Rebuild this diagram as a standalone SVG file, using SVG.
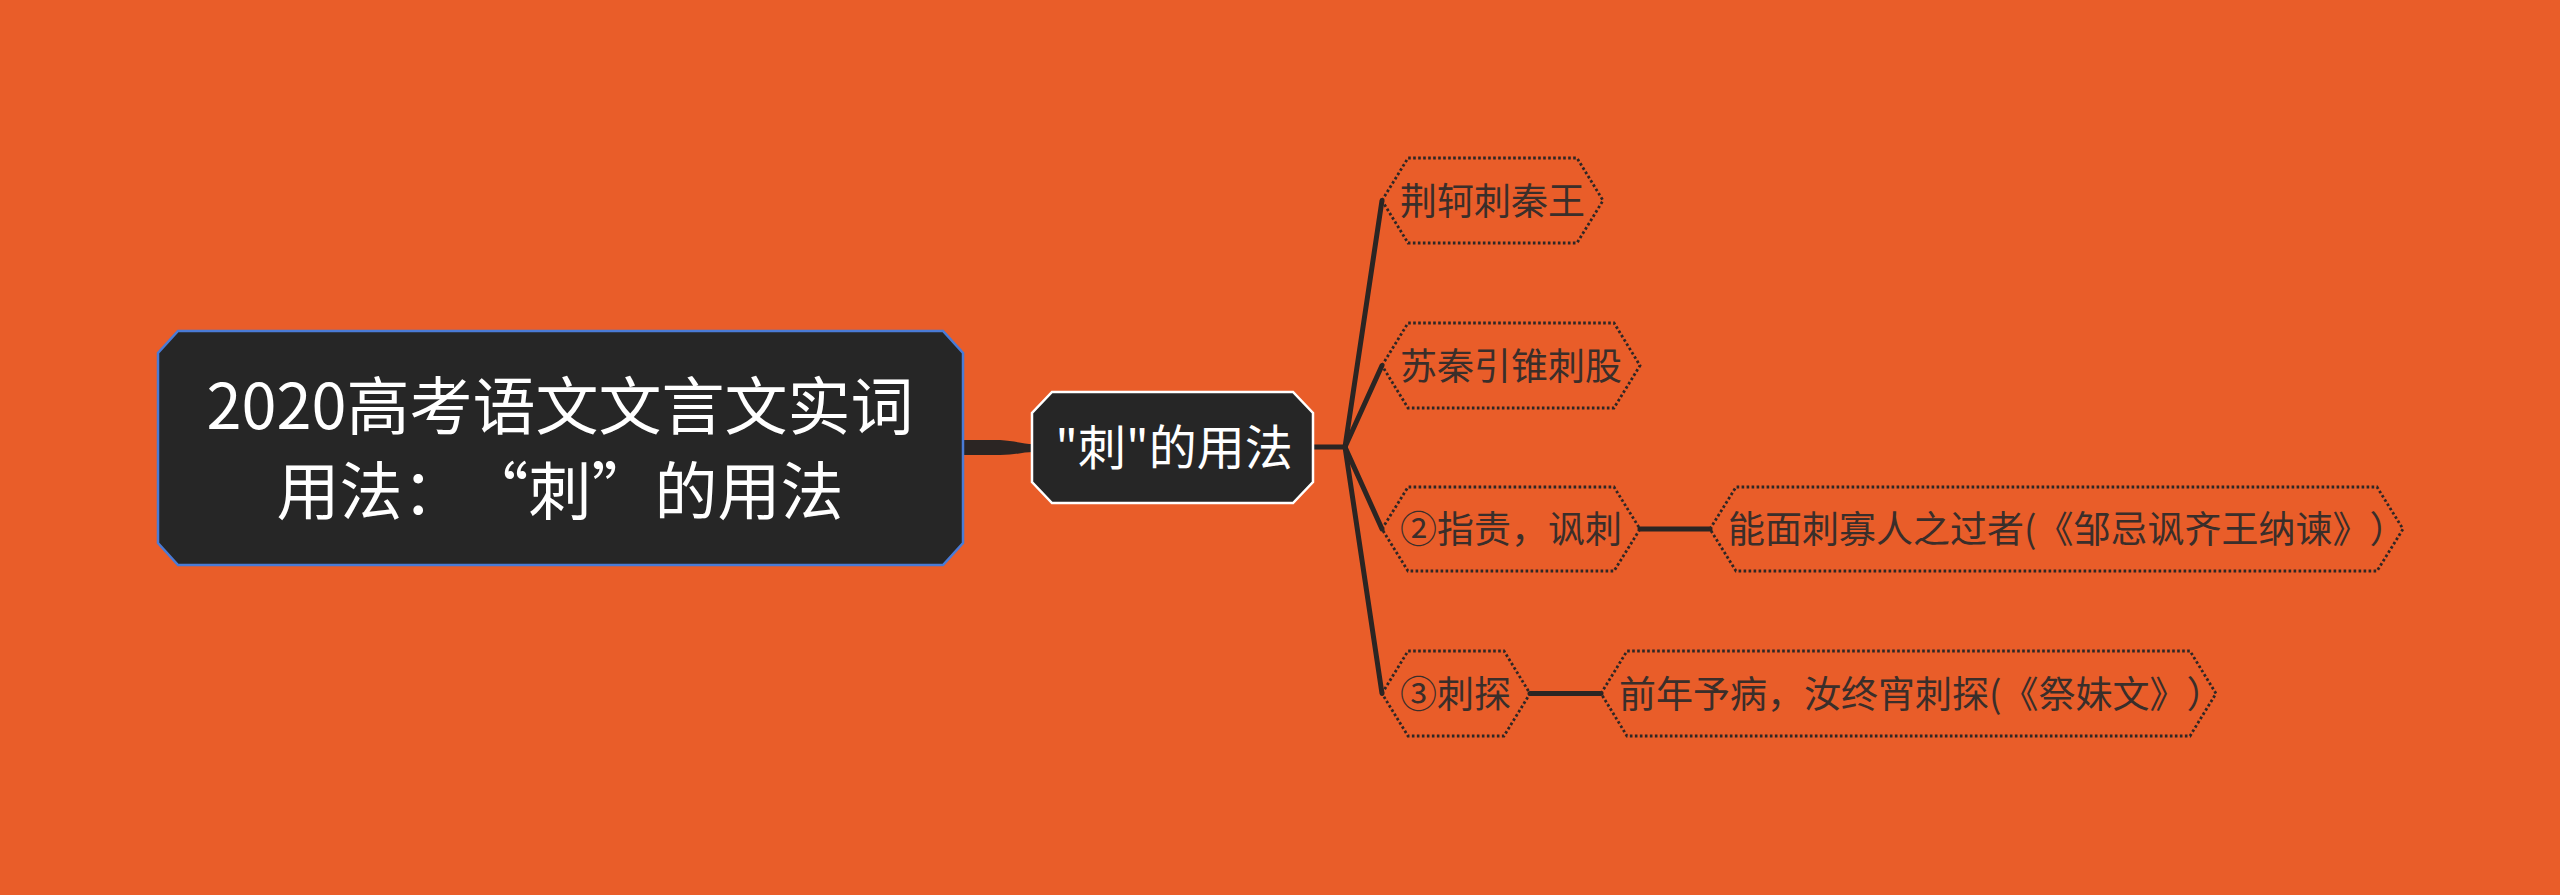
<svg xmlns="http://www.w3.org/2000/svg" width="2560" height="895" viewBox="0 0 2560 895">
<style>
text{text-spacing-trim:space-all}
.bg{fill:#E95D29}
.dark{fill:#262626}
.root{stroke:#4A7BD6;stroke-width:2.5}
.mid{stroke:#FFFFFF;stroke-width:2.5}
.hex{fill:none;stroke:#2E2624;stroke-width:2.8;stroke-dasharray:2.6 2.4}
.line{stroke:#2B2523;stroke-width:5;fill:none;stroke-linecap:round}
.wt{fill:#FFFFFF;font-family:"Noto Sans CJK SC","Noto Sans",sans-serif}
.lt{fill:#3A2E2A;font-family:"Noto Sans CJK SC","Noto Sans",sans-serif;font-size:37px}
</style>
<rect class="bg" x="0" y="0" width="2560" height="895"/>
<g id="connectors">
<path d="M963,440 L1000,440 C1015,441 1024,444 1033,444 L1033,452 C1024,452 1015,455 1000,455 L963,455 Z" fill="#2B2523"/>
<line class="line" x1="1313" y1="447" x2="1345" y2="447"/>
<line class="line" x1="1345" y1="447" x2="1382" y2="200.5"/>
<line class="line" x1="1345" y1="447" x2="1382" y2="365.5"/>
<line class="line" x1="1345" y1="447" x2="1382" y2="529"/>
<line class="line" x1="1345" y1="447" x2="1382" y2="693.5"/>
<line class="line" x1="1640" y1="529" x2="1710" y2="529"/>
<line class="line" x1="1530" y1="693.5" x2="1601" y2="693.5"/>
</g>
<g id="root">
<polygon class="dark root" points="178,331 943,331 963,353 963,543 943,565 178,565 158,543 158,353"/>
<text class="wt" font-size="63" x="560" y="429" text-anchor="middle">2020高考语文文言文实词</text>
<text class="wt" font-size="63" x="560" y="514" text-anchor="middle">用法：“刺”的用法</text>
</g>
<g id="center">
<polygon class="dark mid" points="1052,392 1293,392 1313,413 1313,482 1293,503 1052,503 1032,482 1032,413"/>
<text class="wt" font-size="48" x="1174" y="465" text-anchor="middle">"刺"的用法</text>
</g>
<g id="n1">
<polygon class="hex" points="1382,200.5 1408,158 1577,158 1603,200.5 1577,243 1408,243"/>
<text class="lt" x="1400" y="214.5">荆轲刺秦王</text>
</g>
<g id="n2">
<polygon class="hex" points="1382,365.5 1408,323 1614,323 1640,365.5 1614,408 1408,408"/>
<text class="lt" x="1400" y="379.5">苏秦引锥刺股</text>
</g>
<g id="n3">
<polygon class="hex" points="1382,529 1408,487 1614,487 1640,529 1614,571 1408,571"/>
<text class="lt" x="1400" y="543">②指责，讽刺</text>
</g>
<g id="n4">
<polygon class="hex" points="1382,693.5 1408,651 1504,651 1530,693.5 1504,736 1408,736"/>
<text class="lt" x="1400" y="707.5">③刺探</text>
</g>
<g id="n3a">
<polygon class="hex" points="1710,529 1736,487 2377,487 2403,529 2377,571 1736,571"/>
<text class="lt" x="1728" y="543">能面刺寡人之过者(《邹忌讽齐王纳谏》）</text>
</g>
<g id="n4a">
<polygon class="hex" points="1601,693.5 1627,651 2190,651 2216,693.5 2190,736 1627,736"/>
<text class="lt" x="1619" y="707.5">前年予病，汝终宵刺探(《祭妹文》）</text>
</g>
</svg>
